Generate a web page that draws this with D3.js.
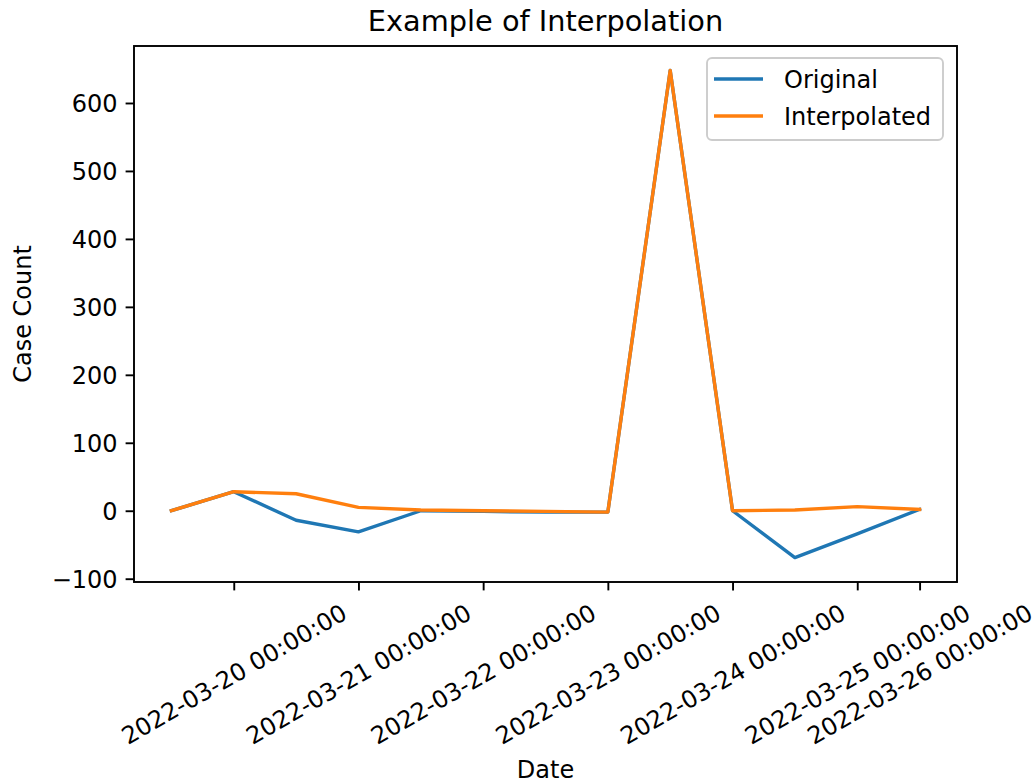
<!DOCTYPE html>
<html>
<head>
<meta charset="utf-8">
<script src="https://cdn.jsdelivr.net/npm/d3@7"></script>
<style>
  html, body { margin: 0; padding: 0; background: #fff; }
  svg { display: block; font-family: "DejaVu Sans", sans-serif; }
</style>
</head>
<body>
<svg id="chart" width="1034" height="784"></svg>
<script>
// Half-day sample positions (index along the x axis)
const sampleIndex = [0, 1, 2, 3, 4, 5, 6, 7, 8, 9, 10, 11, 12];
// Raw case counts, including negative correction entries
const originalCounts = [0, 28, -14, -31, 0, -1, -2, -2, 648, 0, -69, -34, 2];
// Counts after the negative entries were interpolated
const interpolatedCounts = [0, 28, 25, 5, 1, 0, -1, -2, 648, 0, 1, 6, 2];

// Tick placement and their date labels
const xTickIndex = [1, 3, 5, 7, 9, 11, 12];
const xTickLabels = [
  "2022-03-20 00:00:00", "2022-03-21 00:00:00", "2022-03-22 00:00:00",
  "2022-03-23 00:00:00", "2022-03-24 00:00:00", "2022-03-25 00:00:00",
  "2022-03-26 00:00:00"
];
const yTicks = [-100, 0, 100, 200, 300, 400, 500, 600];

const seriesNames = ["Original", "Interpolated"];
const seriesColors = ["#1f77b4", "#ff7f0e"];

const svg = d3.select("#chart");
const fs = 24;            // 10pt text
const box = { left: 134, right: 957, top: 46, bottom: 582 };

// matplotlib-style 5% margins around the data
function padded(ext) {
  const span = ext[1] - ext[0];
  return [ext[0] - span * 0.05, ext[1] + span * 0.05];
}
const x = d3.scaleLinear()
  .domain(padded(d3.extent(sampleIndex)))
  .range([box.left, box.right]);
const y = d3.scaleLinear()
  .domain(padded(d3.extent(originalCounts.concat(interpolatedCounts))))
  .range([box.bottom, box.top]);

const fmtY = d => (d < 0 ? "\u2212" + Math.abs(d) : String(d));

// Lines
const line = d3.line().x((d, i) => x(sampleIndex[i])).y(d => y(d));
const plot = svg.append("g");
[originalCounts, interpolatedCounts].forEach((vals, k) => {
  plot.append("path")
    .datum(vals)
    .attr("d", line)
    .attr("fill", "none")
    .attr("stroke", seriesColors[k])
    .attr("stroke-width", 3.4)
    .attr("stroke-linejoin", "round")
    .attr("stroke-linecap", "square");
});

// Frame
svg.append("rect")
  .attr("x", box.left).attr("y", box.top)
  .attr("width", box.right - box.left).attr("height", box.bottom - box.top)
  .attr("fill", "none").attr("stroke", "#000").attr("stroke-width", 1.9);

// Y axis
const yAxis = d3.axisLeft(y).tickValues(yTicks).tickFormat(fmtY)
  .tickSize(8.4).tickPadding(8);
const gy = svg.append("g").attr("transform", `translate(${box.left},0)`).call(yAxis);
gy.select(".domain").remove();
gy.selectAll(".tick line").attr("stroke", "#000").attr("stroke-width", 1.9);
gy.selectAll(".tick text").attr("font-size", fs).attr("fill", "#000")
  .attr("font-family", "DejaVu Sans").attr("dy", "0.36em");

// X axis with rotated date labels
const xAxis = d3.axisBottom(x).tickValues(xTickIndex)
  .tickFormat((d, i) => xTickLabels[i]).tickSize(8.4);
const gx = svg.append("g").attr("transform", `translate(0,${box.bottom})`).call(xAxis);
gx.select(".domain").remove();
gx.selectAll(".tick line").attr("stroke", "#000").attr("stroke-width", 1.9);
const ang = 30 * Math.PI / 180;
gx.selectAll(".tick text")
  .attr("font-size", fs).attr("fill", "#000").attr("font-family", "DejaVu Sans")
  .attr("text-anchor", "middle").attr("dy", null)
  .attr("dominant-baseline", "central")
  .each(function () {
    const L = this.getComputedTextLength();
    const h = fs * 1.16;
    const H = L * Math.sin(ang) + h * Math.cos(ang);
    const top = 8.4 + 8.4;
    d3.select(this)
      .attr("y", null)
      .attr("transform", `translate(0,${top + H / 2}) rotate(-30)`);
  });

// Axis titles
svg.append("text")
  .attr("x", (box.left + box.right) / 2).attr("y", 778)
  .attr("text-anchor", "middle").attr("font-size", fs).attr("fill", "#000")
  .text("Date");
svg.append("text")
  .attr("transform", `translate(31,${(box.top + box.bottom) / 2}) rotate(-90)`)
  .attr("text-anchor", "middle").attr("font-size", fs).attr("fill", "#000")
  .text("Case Count");

// Title
svg.append("text")
  .attr("x", (box.left + box.right) / 2).attr("y", 31)
  .attr("text-anchor", "middle").attr("font-size", 28.8).attr("fill", "#000")
  .text("Example of Interpolation");

// Legend
const lg = svg.append("g");
lg.append("rect")
  .attr("x", 707).attr("y", 58).attr("width", 236).attr("height", 82)
  .attr("rx", 5).attr("fill", "rgba(255,255,255,0.8)")
  .attr("stroke", "#cccccc").attr("stroke-width", 1.9);
seriesNames.forEach((name, k) => {
  const ly = 79 + k * 37;
  lg.append("line")
    .attr("x1", 714).attr("x2", 763).attr("y1", ly).attr("y2", ly)
    .attr("stroke", seriesColors[k]).attr("stroke-width", 3.4);
  lg.append("text")
    .attr("x", 784).attr("y", ly).attr("dy", "0.36em")
    .attr("font-size", fs).attr("fill", "#000")
    .text(name);
});
</script>
</body>
</html>
